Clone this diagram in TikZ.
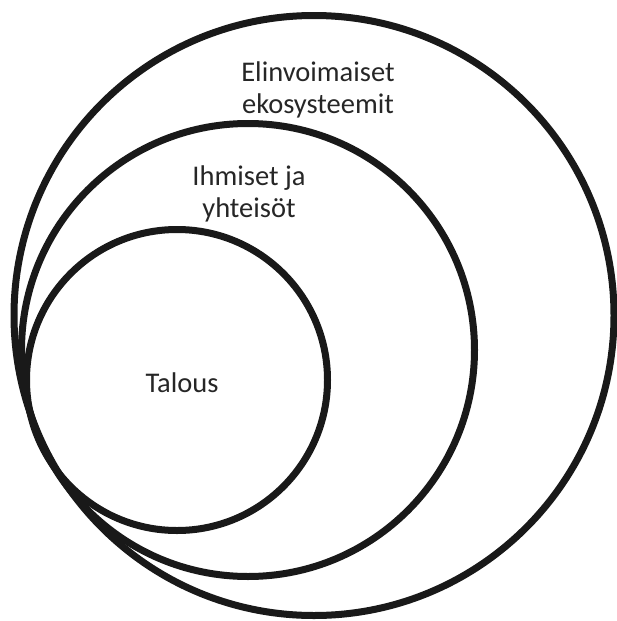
\documentclass[tikz,border=0pt]{standalone}
\usepackage{fontspec}
\setmainfont{Carlito}
\begin{document}
\begin{tikzpicture}[x=1pt,y=-1pt,
  ring/.style={draw=black!90, line width=7pt},
  lbl/.style={font=\fontsize{28.5}{31.5}\selectfont, text=black!85, align=center, anchor=base, inner sep=0pt}]
\useasboundingbox (0,0) rectangle (617,621);
\node[ring, circle, minimum size=600pt, inner sep=0pt] (outer) at (314,315.5) {};
\node[ring, circle, minimum size=453pt, inner sep=0pt] (middle) at (248,350) {};
\node[ring, circle, minimum size=301pt, inner sep=0pt] (inner) at (177,380) {};
\node[lbl] (t1) at (318,113) {Elinvoimaiset\\ekosysteemit};
\node[lbl] (t2) at (249,217) {Ihmiset ja\\yhteisöt};
\node[lbl] (t3) at (182,392) {Talous};
\end{tikzpicture}
\end{document}
